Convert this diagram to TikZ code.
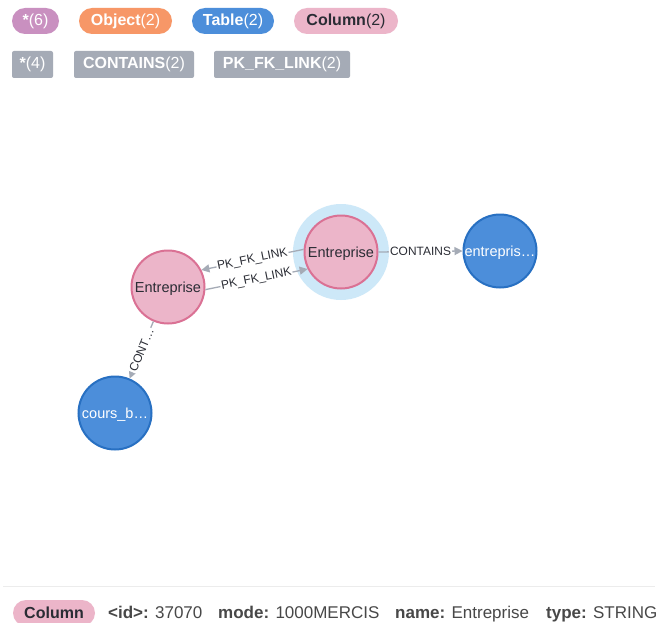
\documentclass[tikz,border=0pt]{standalone}
\usepackage{fontspec}
\setmainfont{Liberation Sans}
\usetikzlibrary{arrows.meta}
\definecolor{pinkfill}{RGB}{236,181,201}
\definecolor{pinkline}{RGB}{218,113,148}
\definecolor{bluefill}{RGB}{76,142,218}
\definecolor{blueline}{RGB}{40,112,194}
\definecolor{halo}{RGB}{205,232,248}
\definecolor{relgray}{RGB}{165,171,182}
\definecolor{purplepill}{RGB}{201,144,192}
\definecolor{orangepill}{RGB}{247,151,103}
\definecolor{darktext}{RGB}{42,44,52}
\definecolor{proptext}{RGB}{72,72,72}
\definecolor{sepline}{RGB}{236,236,236}
\begin{document}
\begin{tikzpicture}[x=1pt,y=-1pt,
  pill/.style={rounded corners=13pt, minimum height=26pt, inner sep=0pt, font=\fontsize{16}{16}\selectfont, text=white},
  relbox/.style={fill=relgray, rounded corners=2pt, minimum height=27pt, inner sep=0pt, font=\fontsize{16}{16}\selectfont, text=white},
  colnode/.style={circle, fill=pinkfill, draw=pinkline, line width=2pt, minimum size=73pt, inner sep=0pt, text=darktext, font=\fontsize{14.5}{14.5}\selectfont, text height=10.5pt, text depth=0.5pt},
  tabnode/.style={circle, fill=bluefill, draw=blueline, line width=2pt, minimum size=73pt, inner sep=0pt, text=white, font=\fontsize{14.5}{14.5}\selectfont, text height=10.5pt, text depth=0.5pt},
  rel/.style={draw=relgray, line width=1.3pt, -{Triangle[length=8pt,width=8pt]}},
  rellabel/.style={fill=white, inner sep=1pt, text=darktext, font=\fontsize{12}{12}\selectfont, sloped},
  proplabel/.style={anchor=base west, inner sep=0pt, text=proptext, font=\fontsize{17}{17}\selectfont}
]
\useasboundingbox[fill=white] (0,0) rectangle (658,623);

% legend: labels
\node[pill, fill=purplepill, minimum width=47pt] (lall) at (35.5,21) {\textbf{*}(6)};
\node[pill, fill=orangepill, minimum width=93pt] (lobj) at (125.5,21) {\textbf{Object}(2)};
\node[pill, fill=bluefill, minimum width=82pt] (ltab) at (233,21) {\textbf{Table}(2)};
\node[pill, fill=pinkfill, text=darktext, minimum width=104pt] (lcol) at (346,21) {\textbf{Column}(2)};

% legend: relationship types
\node[relbox, minimum width=41pt] (rall) at (32.5,64.5) {\textbf{*}(4)};
\node[relbox, minimum width=120pt] (rcont) at (134,64.5) {\textbf{CONTAINS}(2)};
\node[relbox, minimum width=136pt] (rpk) at (282,64.5) {\textbf{PK\_FK\_LINK}(2)};

% graph
\fill[halo] (341,252) circle (48);
\node[colnode] (C) at (341,252) {Entreprise};
\node[colnode] (L) at (168,287) {Entreprise};
\node[tabnode] (E) at (500,251) {entrepris…};
\node[tabnode] (B) at (115,413) {cours\_b…};

\draw[rel] (C.176) -- node[rellabel] {PK\_FK\_LINK} (L.27);
\draw[rel] (L.-4) -- node[rellabel] {PK\_FK\_LINK} (C.207);
\draw[rel] (C.0) -- node[rellabel] {CONTAINS} (E.180);
\draw[rel] (L.247) -- node[rellabel] {CONT…} (B.67);

% bottom inspector
\coordinate (sepa) at (3,586);
\coordinate (sepb) at (655,586);
\draw[sepline, line width=1pt] (sepa) -- (sepb);
\node[pill, fill=pinkfill, text=darktext, minimum width=82pt] (sel) at (54,613) {\textbf{Column}};
\node[proplabel] (pid) at (108,618) {\textbf{<id>:} 37070};
\node[proplabel] (pmode) at (218,618) {\textbf{mode:} 1000MERCIS};
\node[proplabel] (pname) at (395,618) {\textbf{name:} Entreprise};
\node[proplabel] (ptype) at (546,618) {\textbf{type:} STRING};
\end{tikzpicture}
\end{document}
